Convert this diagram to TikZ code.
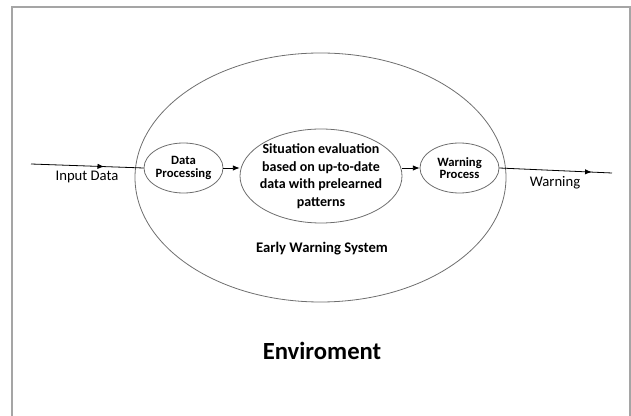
\documentclass[tikz,border=0pt]{standalone}
\usepackage{fontspec}
\setmainfont{Carlito}
\usetikzlibrary{shapes.geometric,arrows.meta,decorations.markings}

\tikzset{every picture/.style={line width=0.75pt}}
\tikzset{
  blob/.style={draw={rgb, 255:red, 110; green, 110; blue, 110 }, line width=0.6pt, ellipse, inner sep=0pt},
  flow/.style={line width=0.6pt, -{Latex[length=5pt,width=4pt]}},
  midflow/.style={line width=0.6pt, postaction={decorate}, decoration={markings, mark=at position #1 with {\arrow{Latex[length=5pt,width=4pt]}}}}
}

\begin{document}
\begin{tikzpicture}[x=0.75pt,y=0.75pt,yscale=-1,xscale=1]
\useasboundingbox (0,0) rectangle (631,416);

%Frame
\draw [draw={rgb, 255:red, 165; green, 165; blue, 165 }, line width=1.2pt] (12,7) rectangle (630,430);

%Ellipses
\node [blob, minimum width=278.25pt, minimum height=186.75pt] (ews) at (320.5,177.5) {};
\node [blob, minimum width=59.25pt, minimum height=37.5pt] (dp) at (183.5,168) {};
\node [blob, minimum width=121.5pt, minimum height=70.5pt] (se) at (321,176) {};
\node [blob, minimum width=59.25pt, minimum height=37.5pt] (wp) at (459.5,168) {};

% Text Node
\node [align=center, font=\fontsize{9.5}{9.5}\selectfont\bfseries] at (dp) {Data\\Processing};
% Text Node
\node [align=center, font=\fontsize{10.5}{13.1}\selectfont\bfseries] at (se) {Situation evaluation\\based on up-to-date\\data with prelearned\\patterns};
% Text Node
\node [align=center, font=\fontsize{9.5}{9.5}\selectfont\bfseries] at (wp) {Warning\\Process};
% Text Node
\node [font=\fontsize{11}{13}\selectfont\bfseries] (ewslabel) at (322,249) {Early Warning System};
% Text Node
\node [font=\fontsize{18.5}{22}\selectfont\bfseries] (env) at (322,351) {Enviroment};
% Text Node
\node [font=\fontsize{11}{13}\selectfont] (inlabel) at (87,177) {Input Data};
% Text Node
\node [font=\fontsize{11}{13}\selectfont] (outlabel) at (555,183) {Warning};

%Connectors
\coordinate (src) at (31,164);
\coordinate (dst) at (612,173);
\draw [midflow=0.65] (src) -- (dp.west);
\draw [midflow=0.82] (wp.east) -- (dst);
\draw [flow] (dp.east) -- (dp.east -| se.west);
\draw [flow] (se.east |- wp.west) -- (wp.west);

\end{tikzpicture}
\end{document}
